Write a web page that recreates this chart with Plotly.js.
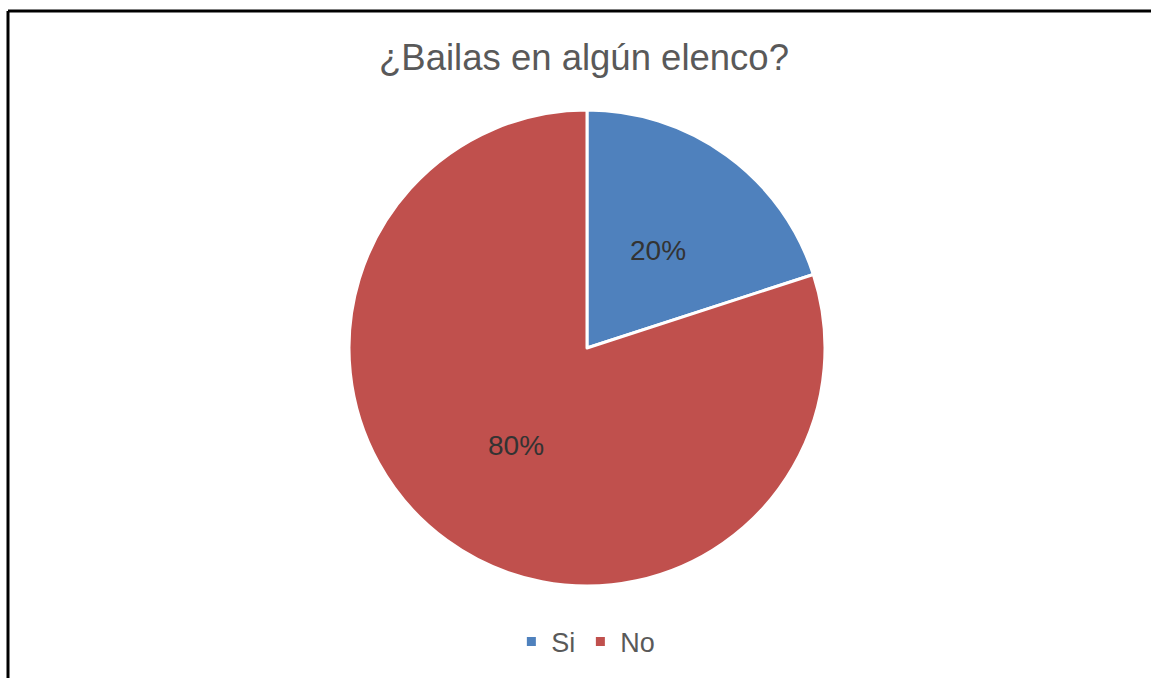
<!DOCTYPE html>
<html>
<head>
<meta charset="utf-8">
<script src="https://cdn.plot.ly/plotly-3.0.1.min.js"></script>
<style>html,body{margin:0;padding:0;background:#fff;}#chart{width:1151px;height:678px;}</style>
</head>
<body>
<div id="chart"></div>
<script>
const categories = ["Si", "No"];
const values = [20, 80];
const colors = ["#4F81BD", "#C0504D"];
const chartTitle = "¿Bailas en algún elenco?";

const W = 1151, H = 678;
const cx = 587, cy = 348, R = 238;
const FONT = "Liberation Sans, Arial, sans-serif";

const trace = {
  type: "pie",
  labels: categories,
  values: values,
  sort: false,
  direction: "clockwise",
  rotation: 0,
  marker: { colors: colors, line: { color: "#ffffff", width: 3 } },
  textinfo: "none",
  hoverinfo: "none",
  domain: { x: [(cx - R) / W, (cx + R) / W], y: [1 - (cy + R) / H, 1 - (cy - R) / H] }
};

// percentage labels placed at each slice's mid-angle, derived from the values
const total = values.reduce((a, b) => a + b, 0);
let cum = 0;
const annotations = values.map((v, i) => {
  const mid = (cum + v / 2) / total * 2 * Math.PI;
  cum += v;
  const r = R * 0.505;
  const px = cx + r * Math.sin(mid);
  const py = cy - r * Math.cos(mid);
  return {
    xref: "paper", yref: "paper", x: px / W, y: 1 - py / H,
    xanchor: "center", yanchor: "middle", showarrow: false,
    text: Math.round(v / total * 100) + "%",
    font: { family: FONT, size: 28, color: "#333333" }
  };
});

const layout = {
  width: W, height: H,
  margin: { l: 0, r: 0, t: 0, b: 0 },
  paper_bgcolor: "#ffffff",
  font: { family: FONT, color: "#595959" },
  title: { text: chartTitle, x: 584 / W, xanchor: "center", y: 1 - 57 / H, yanchor: "middle",
           font: { size: 36.5, color: "#595959", family: FONT } },
  showlegend: true,
  legend: { orientation: "h", x: 0.509, xanchor: "center", y: 1 - 642 / H, yanchor: "middle",
            font: { size: 27, color: "#595959" }, itemwidth: 30, traceorder: "normal" },
  annotations: annotations,
  shapes: [
    { type: "line", xref: "paper", yref: "paper", x0: 8 / W, x1: 8 / W, y0: 0, y1: 1 - 11 / H, line: { color: "#000", width: 3 } },
    { type: "line", xref: "paper", yref: "paper", x0: 8 / W, x1: 1, y0: 1 - 11 / H, y1: 1 - 11 / H, line: { color: "#000", width: 3 } }
  ]
};

Plotly.newPlot("chart", [trace], layout, { displayModeBar: false, staticPlot: true });
</script>
</body>
</html>
